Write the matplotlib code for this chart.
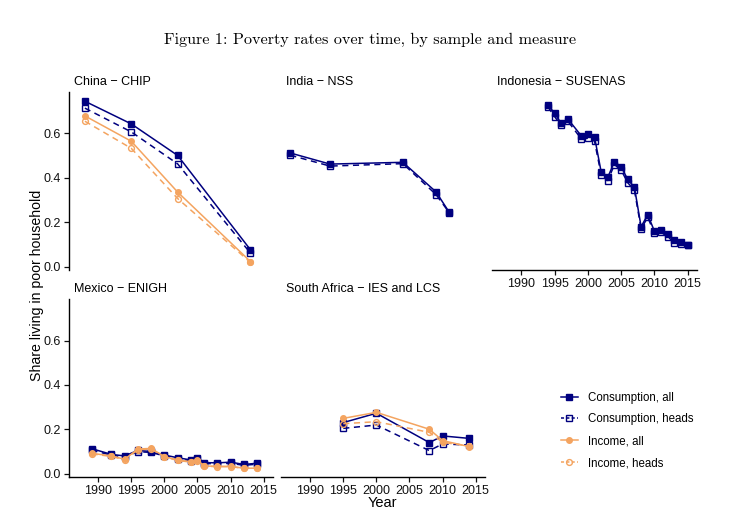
import numpy as np
from matplotlib import pyplot as plt
from matplotlib.lines import Line2D

plt.rcParams['font.family'] = ['Liberation Sans', 'DejaVu Sans']

# colours / labels
navy = '#00007F'
orange = '#F4A460'
ser_labels = ["Consumption, all", "Consumption, heads", "Income, all", "Income, heads"]

# China - CHIP
china_years = [1988, 1995, 2002, 2013]
china_cons_all = [0.745, 0.643, 0.501, 0.076]
china_cons_heads = [0.714, 0.607, 0.463, 0.061]
china_inc_all = [0.679, 0.565, 0.336, 0.023]
china_inc_heads = [0.655, 0.533, 0.307, 0.019]

# India - NSS
india_years = [1987, 1993, 2004, 2009, 2011]
india_cons_all = [0.512, 0.462, 0.470, 0.337, 0.245]
india_cons_heads = [0.502, 0.453, 0.464, 0.325, 0.243]

# Indonesia - SUSENAS
indo_years = [1994, 1995, 1996, 1997, 1999, 2000, 2001, 2002, 2003, 2004, 2005,
              2006, 2007, 2008, 2009, 2010, 2011, 2012, 2013, 2014, 2015]
indo_cons_all = [0.730, 0.690, 0.645, 0.665, 0.590, 0.597, 0.585, 0.427, 0.403, 0.473, 0.449,
                 0.393, 0.357, 0.180, 0.234, 0.160, 0.166, 0.145, 0.118, 0.109, 0.099]
indo_cons_heads = [0.720, 0.676, 0.636, 0.655, 0.576, 0.578, 0.566, 0.414, 0.388, 0.460, 0.435,
                   0.378, 0.344, 0.171, 0.222, 0.151, 0.155, 0.135, 0.108, 0.102, 0.097]

# Mexico - ENIGH
mex_years = [1989, 1992, 1994, 1996, 1998, 2000, 2002, 2004, 2005, 2006, 2008, 2010, 2012, 2014]
mex_cons_all = [0.114, 0.088, 0.081, 0.106, 0.101, 0.085, 0.073, 0.063, 0.073, 0.051, 0.050, 0.053, 0.043, 0.048]
mex_cons_heads = [0.108, 0.084, 0.077, 0.100, 0.097, 0.081, 0.069, 0.059, 0.068, 0.047, 0.046, 0.048, 0.039, 0.044]
mex_inc_all = [0.093, 0.081, 0.066, 0.112, 0.115, 0.078, 0.063, 0.055, 0.063, 0.036, 0.034, 0.034, 0.026, 0.026]
mex_inc_heads = [0.090, 0.079, 0.064, 0.109, 0.112, 0.076, 0.061, 0.053, 0.060, 0.035, 0.033, 0.033, 0.025, 0.025]

# South Africa - IES and LCS
sa_years = [1995, 2000, 2008, 2010, 2014]
sa_cons_all = [0.231, 0.273, 0.141, 0.171, 0.160]
sa_cons_heads = [0.205, 0.220, 0.105, 0.135, 0.130]
sa_inc_all = [0.250, 0.277, 0.201, 0.150, 0.123]
sa_inc_heads = [0.226, 0.235, 0.187, 0.142, 0.126]

W, H = 740, 520
fig = plt.figure(figsize=(W/100, H/100), dpi=100)

def ax_at(l, r, t, b):
    return fig.add_axes([l/W, 1-b/H, (r-l)/W, (b-t)/H])

styles = [
    dict(color=navy, ls='-', marker='s', mfc=navy, mec=navy),
    dict(color=navy, ls='--', marker='s', mfc='none', mec=navy),
    dict(color=orange, ls='-', marker='o', mfc=orange, mec=orange),
    dict(color=orange, ls='--', marker='o', mfc='none', mec=orange),
]
msizes = [4.6, 4.6, 4.0, 4.2]

def draw(ax, years, series):
    for i, s in enumerate(series):
        if s is None:
            continue
        st = styles[i]
        ax.plot(years, s, color=st['color'], ls=st['ls'], lw=1.1, marker=st['marker'],
                ms=msizes[i], mfc=st['mfc'], mec=st['mec'], mew=1.0,
                dashes=(4, 3) if st['ls'] == '--' else (None, None))

cols = [(69, 273), (281, 485), (492, 697)]
rows = [(91.7, 270), (298.7, 477.3)]

panels = [
    ("China \u2212 CHIP", 0, 0, china_years, [china_cons_all, china_cons_heads, china_inc_all, china_inc_heads]),
    ("India \u2212 NSS", 0, 1, india_years, [india_cons_all, india_cons_heads, None, None]),
    ("Indonesia \u2212 SUSENAS", 0, 2, indo_years, [indo_cons_all, indo_cons_heads, None, None]),
    ("Mexico \u2212 ENIGH", 1, 0, mex_years, [mex_cons_all, mex_cons_heads, mex_inc_all, mex_inc_heads]),
    ("South Africa \u2212 IES and LCS", 1, 1, sa_years, [sa_cons_all, sa_cons_heads, sa_inc_all, sa_inc_heads]),
]

for name, r, c, yrs, series in panels:
    l, rr = cols[c]
    t, b = rows[r]
    ax = ax_at(l, rr, t, b)
    draw(ax, yrs, series)
    ax.set_xlim(1985.6, 2016.4)
    ax.set_ylim(-0.015, 0.788)
    ax.set_xticks([1990, 1995, 2000, 2005, 2010, 2015])
    ax.set_yticks([0.0, 0.2, 0.4, 0.6])
    ax.set_yticklabels(['0.0', '0.2', '0.4', '0.6'])
    for sp in ['top', 'right']:
        ax.spines[sp].set_visible(False)
    show_x = (r == 1) or (c == 2)
    show_y = (c == 0)
    ax.spines['bottom'].set_visible(show_x)
    ax.spines['left'].set_visible(show_y)
    ax.tick_params(axis='x', bottom=show_x, labelbottom=show_x, length=3.5, width=0.9,
                   labelsize=9, colors='#111111', pad=2)
    ax.tick_params(axis='y', left=show_y, labelleft=show_y, length=3.5, width=0.9,
                   labelsize=9, colors='#111111', pad=2)
    for sp in ax.spines.values():
        sp.set_linewidth(1.0)
    ax.text(0.025, 1.02, name, transform=ax.transAxes, ha='left', va='bottom', fontsize=9)

fig.text(370/W, 1-40/H, "Figure 1: Poverty rates over time, by sample and measure",
         ha='center', va='center', fontsize=11.7, family='cmr10')
fig.text(37/W, 1-285/H, "Share living in poor household", rotation=90,
         ha='center', va='center', fontsize=10.2)
fig.text(382/W, 1-503/H, "Year", ha='center', va='center', fontsize=10.5)

handles = []
for i in range(4):
    st = styles[i]
    handles.append(Line2D([], [], color=st['color'], ls=st['ls'], lw=1.1, marker=st['marker'],
                          ms=msizes[i], mfc=st['mfc'], mec=st['mec'], mew=1.0,
                          dashes=(2, 1.5) if st['ls'] == '--' else (None, None)))
fig.legend(handles, ser_labels, loc='upper left', bbox_to_anchor=(556/W, 1-387/H),
           frameon=False, fontsize=8.3, handlelength=1.5, handletextpad=0.85,
           labelspacing=0.85, borderaxespad=0)

fig.savefig('out.png', dpi=100)
